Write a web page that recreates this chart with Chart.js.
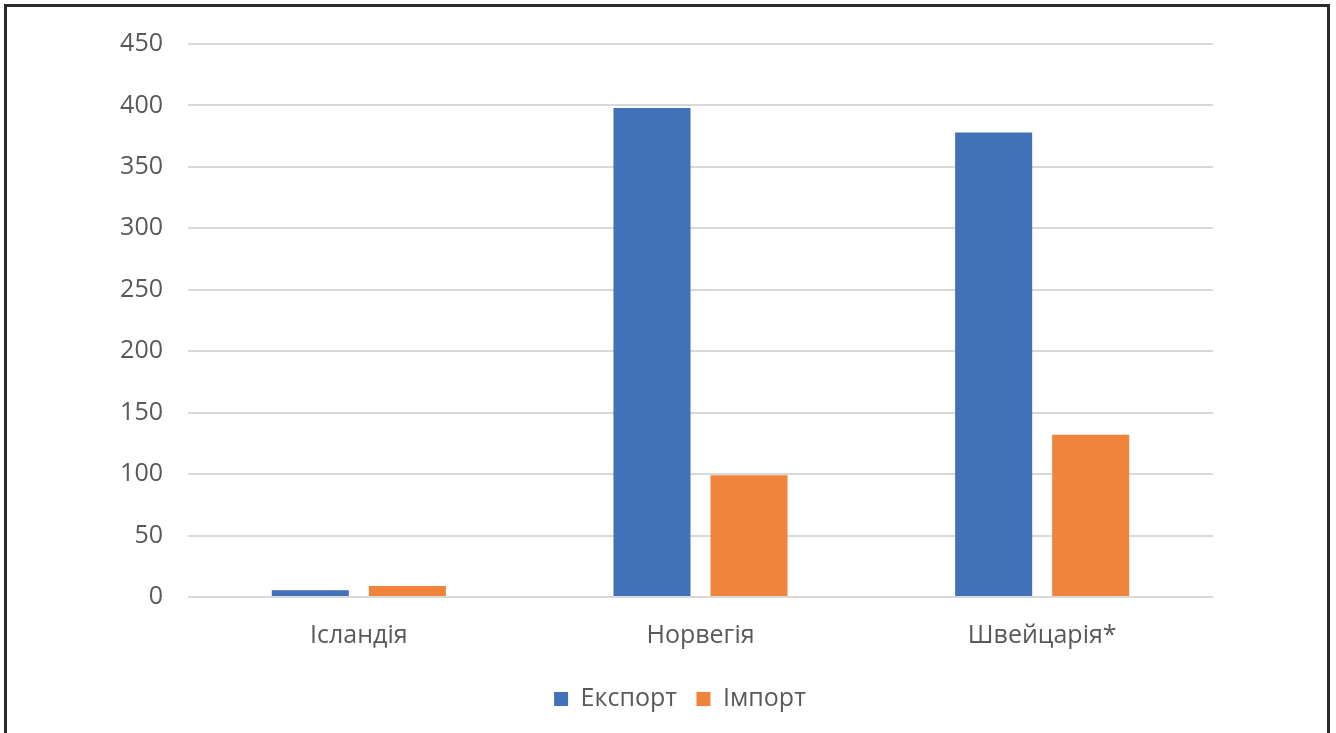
<!DOCTYPE html>
<html>
<head>
<meta charset="utf-8">
<script src="https://cdn.jsdelivr.net/npm/chart.js@4"></script>
<style>
  html, body { margin: 0; padding: 0; background: #fff; overflow: hidden; }
  .frame { position: absolute; left: 4px; top: 4px; width: 1326px; height: 760px; border: 3px solid #2b2b2b; box-sizing: border-box; }
  .wrap { position: absolute; left: 0; top: 0; width: 1336px; height: 733px; }
</style>
</head>
<body>
<div class="frame"></div>
<div class="wrap"><canvas id="c"></canvas></div>
<script>
  // країни та значення експорту / імпорту
  const countries = ["Ісландія", "Норвегія", "Швейцарія*"];
  const exportVals = [5.5, 398, 378];
  const importVals = [9, 99, 132];
  const yTicks = [0, 50, 100, 150, 200, 250, 300, 350, 400, 450];

  const grey = "#595959";
  const font = { family: "'Open Sans', 'Noto Sans', sans-serif", size: 25 };

  new Chart(document.getElementById("c"), {
    type: "bar",
    data: {
      labels: countries,
      datasets: [
        { label: "Експорт", data: exportVals, backgroundColor: "#4171b9", categoryPercentage: 0.568, barPercentage: 0.794 },
        { label: "Імпорт", data: importVals, backgroundColor: "#f0843c", categoryPercentage: 0.568, barPercentage: 0.794 }
      ]
    },
    options: {
      responsive: true, maintainAspectRatio: false, animation: false,
      layout: { padding: { left: 24, right: 0, top: 44, bottom: 11.5 } },
      plugins: {
        legend: { position: "bottom", labels: { color: grey, font, boxWidth: 14, boxHeight: 14, padding: 19.5 } },
        tooltip: { enabled: false }
      },
      scales: {
        x: {
          grid: { display: false }, border: { display: false },
          ticks: { color: grey, font, padding: 16 }
        },
        y: {
          min: 0, max: 450,
          afterBuildTicks: (s) => { s.ticks = yTicks.map((v) => ({ value: v })); },
          afterFit: (s) => { s.width = 164; },
          grid: { color: "#d9d9d9", lineWidth: 2, drawTicks: false },
          border: { display: false },
          ticks: { color: grey, font, padding: 25 }
        },
        // порожня вісь праворуч — лише відступ
        yR: {
          position: "right", display: true,
          afterFit: (s) => { s.width = 123; },
          grid: { display: false }, border: { display: false },
          ticks: { display: false }
        }
      }
    }
  });
</script>
</body>
</html>
